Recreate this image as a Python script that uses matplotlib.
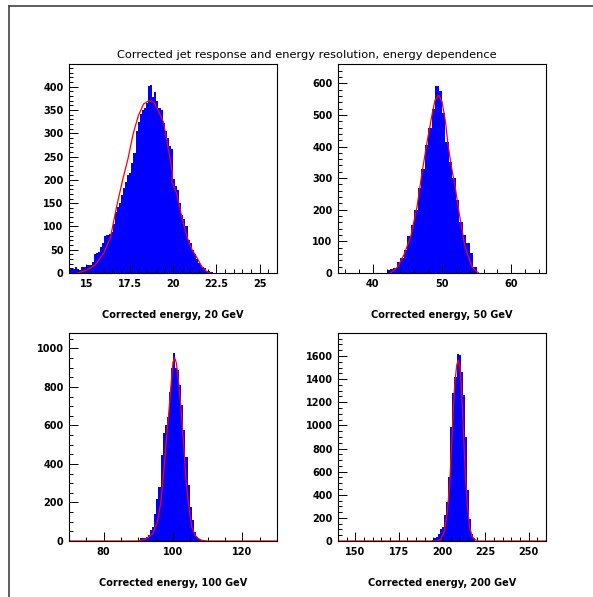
import numpy as np
from matplotlib import pyplot as plt
from matplotlib.ticker import MultipleLocator, FormatStrFormatter
from matplotlib.lines import Line2D

plt.rcParams['font.family'] = ['DejaVu Sans']

# histogram contents: first bin edge, bin width, bin counts
start_20, width_20 = 14.0, 0.12
counts_20 = [10, 10, 9, 13, 8, 7, 13, 13, 18, 17,
             17, 24, 40, 44, 46, 55, 64, 80, 82, 83,
             89, 105, 130, 142, 150, 168, 182, 195, 211, 214,
             237, 258, 305, 324, 342, 350, 355, 365, 401, 404,
             378, 388, 370, 355, 350, 323, 305, 290, 273, 266,
             201, 187, 178, 150, 125, 115, 100, 71, 64, 49,
             40, 31, 22, 17, 13, 10, 5, 4, 3]

start_50, width_50 = 42.0, 0.5
counts_50 = [10, 12, 16, 34, 47, 74, 116, 153, 200, 270,
             330, 405, 460, 520, 591, 575, 505, 415, 350, 300,
             230, 160, 120, 94, 62, 20]

start_100, width_100 = 90.4, 0.6
counts_100 = [15, 15, 15, 20, 30, 55, 73, 142, 217, 281,
              446, 563, 600, 645, 775, 900, 975, 900, 887, 809,
              705, 575, 437, 290, 177, 108, 47, 21, 12, 5]

start_200, width_200 = 194.0, 1.2
counts_200 = [8, 25, 35, 63, 101, 121, 228, 338, 555, 988,
              1277, 1420, 1620, 1610, 1465, 1263, 900, 440, 194, 63,
              26]

# fitted curves
fit_x_20 = [14.5, 15.0, 15.5, 16.0, 16.4, 16.75, 17.1, 17.4, 17.7, 18.0,
            18.3, 18.6, 18.9, 19.15, 19.45, 19.7, 19.97, 19.93, 20.2, 20.5,
            20.8, 21.1, 21.4, 21.65, 21.95, 22.15]
fit_y_20 = [0, 6, 17, 42, 78, 143, 201, 245, 299, 338,
            363, 370, 367, 349, 324, 273, 215, 197, 172, 122,
            78, 50, 32, 14, 3, 0]

fit_x_50 = [42.6, 43.6, 44.5, 45.5, 46.4, 47.1, 47.9, 48.6, 49.0, 49.5,
            50.0, 50.5, 50.9, 51.4, 51.9, 52.4, 52.9, 53.3, 53.8, 54.3,
            54.8, 55.3]
fit_y_50 = [0, 19, 57, 116, 210, 315, 421, 505, 547, 563,
            542, 479, 400, 331, 273, 199, 136, 84, 52, 21,
            8, 0]

fit_x_100 = [70, 90, 92.2, 94.1, 95.5, 96.5, 97.4, 98.1, 98.8, 99.5,
             100.0, 100.5, 101.0, 101.6, 102.4, 103.1, 103.7, 104.5, 105.4, 106.4,
             107.3, 108.2, 110, 130]
fit_y_100 = [0, 0, 11, 37, 99, 203, 376, 532, 671, 826,
             930, 951, 922, 826, 671, 497, 324, 186, 73, 30,
             13, 4, 0, 0]

fit_x_200 = [140, 197, 199.2, 201.2, 203.1, 204.6, 206.0, 207.3, 208.5, 209.4,
             210.4, 211.3, 212.3, 213.4, 214.6, 215.9, 217.5, 219.1, 221, 260]
fit_y_200 = [0, 0, 10, 78, 252, 540, 974, 1349, 1522, 1565,
             1507, 1291, 974, 598, 309, 121, 35, 10, 0, 0]

energies = [20, 50, 100, 200]

fig = plt.figure(figsize=(5.93, 5.97), dpi=100)
W, H = 593.0, 597.0

# outer pad frame
fig.add_artist(Line2D([9 / W, 9 / W], [0, 1 - 6 / H], color='#505050', lw=1.3))
fig.add_artist(Line2D([9 / W, 1], [1 - 6 / H, 1 - 6 / H], color='#505050', lw=1.3))

fig.text(307 / W, 1 - 55 / H,
         'Corrected jet response and energy resolution, energy dependence',
         ha='center', va='center', fontsize=8.2)

panels = [
    # left, top, bottom (pixels), xlim, ylim, x major/minor, y major/minor
    (69, 64, 273, (14, 26), (0, 449), 2.5, 0.5, 50, 10,
     start_20, width_20, counts_20, fit_x_20, fit_y_20),
    (338, 64, 273, (35, 65), (0, 661), 10, 2, 100, 20,
     start_50, width_50, counts_50, fit_x_50, fit_y_50),
    (69, 333, 541, (70, 130), (0, 1080), 20, 5, 200, 50,
     start_100, width_100, counts_100, fit_x_100, fit_y_100),
    (338, 333, 541, (140, 260), (0, 1799), 25, 5, 200, 50,
     start_200, width_200, counts_200, fit_x_200, fit_y_200),
]

for (left, top, bottom, xlim, ylim, xmaj, xmin, ymaj, ymin,
     start, width, counts, fx, fy), e in zip(panels, energies):
    ax = fig.add_axes([left / W, 1 - bottom / H, 208 / W, (bottom - top) / H])
    edges = start + width * np.arange(len(counts) + 1)
    ax.stairs(counts, edges, fill=True, color='#0000ff', lw=0)
    ax.plot(fx, fy, color='#ff0000', lw=0.9)

    ax.set_xlim(*xlim)
    ax.set_ylim(*ylim)
    ax.xaxis.set_major_locator(MultipleLocator(xmaj))
    ax.xaxis.set_minor_locator(MultipleLocator(xmin))
    ax.xaxis.set_major_formatter(FormatStrFormatter('%g'))
    ax.yaxis.set_major_locator(MultipleLocator(ymaj))
    ax.yaxis.set_minor_locator(MultipleLocator(ymin))
    ax.tick_params(which='both', direction='in', width=0.7, top=False, right=False)
    ax.tick_params(which='major', length=6.5)
    ax.tick_params(which='minor', length=3.2)
    ax.tick_params(axis='x', pad=4.5)
    ax.tick_params(axis='y', pad=4)
    for lab in ax.get_xticklabels() + ax.get_yticklabels():
        lab.set_fontweight('bold')
        lab.set_fontsize(7)
    for sp in ax.spines.values():
        sp.set_linewidth(0.8)

    ax.set_xlabel('Corrected energy, {} GeV'.format(e), fontsize=7,
                  fontweight='bold', va='center')
    ax.xaxis.set_label_coords(0.5, -42 / (bottom - top))

fig.savefig('out.png', dpi=100)
